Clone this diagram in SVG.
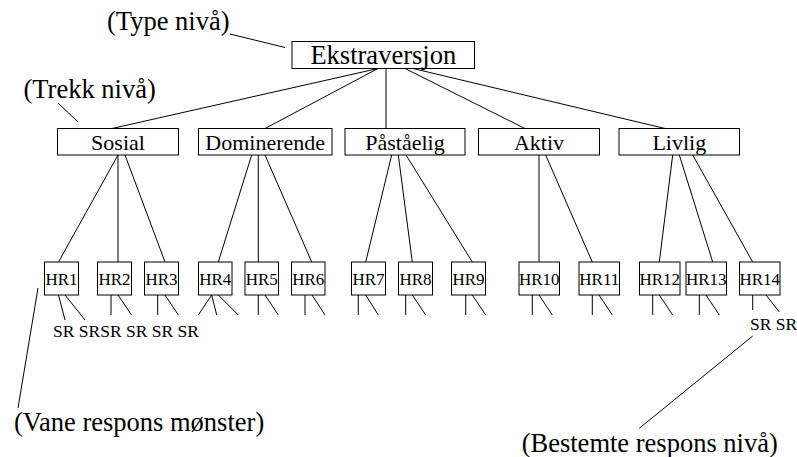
<svg xmlns="http://www.w3.org/2000/svg" width="797" height="457" viewBox="0 0 797 457">
  <style>
    .box { fill: #ffffff; stroke: #000000; stroke-width: 1; }
    .ln { stroke: #000000; stroke-width: 1; fill: none; }
    .t1, .t2, .t3, .sr, .ann { font-family: 'Liberation Serif', 'DejaVu Serif', serif; fill: #000000; }
    .t1 { font-size: 26.5px; text-anchor: middle; }
    .t2 { font-size: 22px; text-anchor: middle; }
    .t3 { font-size: 17px; text-anchor: middle; }
    .sr { font-size: 17.5px; }
    .ann { font-size: 26.5px; }
  </style>

  <g id="connectors" class="ln">
    <line x1="378" y1="68.5" x2="112" y2="128.5"/>
    <line x1="378" y1="68.5" x2="265" y2="128.5"/>
    <line x1="386" y1="68.5" x2="386" y2="128.5"/>
    <line x1="405" y1="68.5" x2="525" y2="128.5"/>
    <line x1="413" y1="68.5" x2="665" y2="128.5"/>
    <line x1="118" y1="155" x2="58.5" y2="262"/>
    <line x1="118" y1="155" x2="118" y2="262"/>
    <line x1="125" y1="155" x2="165" y2="262"/>
    <line x1="251.7" y1="155" x2="218.3" y2="262"/>
    <line x1="258.3" y1="155" x2="258.3" y2="262"/>
    <line x1="265" y1="155" x2="311.7" y2="262"/>
    <line x1="391.7" y1="155" x2="365.7" y2="262"/>
    <line x1="398.3" y1="155" x2="412.3" y2="262"/>
    <line x1="406" y1="155" x2="472.3" y2="262"/>
    <line x1="539" y1="155" x2="539" y2="262"/>
    <line x1="545.7" y1="155" x2="592.3" y2="262"/>
    <line x1="672.7" y1="155" x2="659.3" y2="262"/>
    <line x1="679.3" y1="155" x2="712.7" y2="262"/>
    <line x1="692.7" y1="155" x2="752.7" y2="262"/>
    <line x1="58.5" y1="295" x2="65" y2="320"/>
    <line x1="65" y1="295" x2="85" y2="320"/>
    <line x1="111" y1="295" x2="111" y2="315"/>
    <line x1="118" y1="295" x2="131.5" y2="315"/>
    <line x1="157.7" y1="295" x2="157.7" y2="315"/>
    <line x1="165" y1="295" x2="178.3" y2="315"/>
    <line x1="211.7" y1="295" x2="198.3" y2="315"/>
    <line x1="211.7" y1="295" x2="216.7" y2="315"/>
    <line x1="218.3" y1="295" x2="238.3" y2="315"/>
    <line x1="258.3" y1="295" x2="258.3" y2="315"/>
    <line x1="265" y1="295" x2="278.3" y2="315"/>
    <line x1="305" y1="295" x2="305" y2="315"/>
    <line x1="312" y1="295" x2="325" y2="315"/>
    <line x1="358.3" y1="295" x2="358.3" y2="315"/>
    <line x1="365.7" y1="295" x2="378.3" y2="315"/>
    <line x1="405.7" y1="295" x2="405.7" y2="315"/>
    <line x1="412.3" y1="295" x2="425.7" y2="315"/>
    <line x1="465.7" y1="295" x2="465.7" y2="315"/>
    <line x1="472.3" y1="295" x2="485.7" y2="315"/>
    <line x1="532.3" y1="295" x2="532.3" y2="315"/>
    <line x1="539" y1="295" x2="552.3" y2="315"/>
    <line x1="592.3" y1="295" x2="592.3" y2="315"/>
    <line x1="599" y1="295" x2="612.3" y2="315"/>
    <line x1="652.7" y1="295" x2="652.7" y2="315"/>
    <line x1="659.3" y1="295" x2="672.7" y2="315"/>
    <line x1="699.3" y1="295" x2="699.3" y2="315"/>
    <line x1="706" y1="295" x2="719.3" y2="315"/>
    <line x1="752.7" y1="295" x2="752.7" y2="310"/>
    <line x1="766" y1="295" x2="779.3" y2="312"/>
    <line x1="230" y1="34" x2="285" y2="47.5"/>
    <line x1="58" y1="103" x2="78" y2="122"/>
    <line x1="38" y1="288" x2="18" y2="408"/>
    <line x1="752.7" y1="336" x2="639.3" y2="428.3"/>
  </g>

  <g id="ekstraversjon">
    <rect class="box" x="292" y="41.5" width="182.5" height="27"/>
    <text class="t1" x="383.3" y="64.3" font-family="'Liberation Serif', 'DejaVu Serif', serif">Ekstraversjon</text>
  </g>

  <g id="sosial">
    <rect class="box" x="57.5" y="128.5" width="121" height="26.5"/>
    <text class="t2" x="118" y="149.5">Sosial</text>
  </g>
  <g id="dominerende">
    <rect class="box" x="198.5" y="128.5" width="133.5" height="26.5"/>
    <text class="t2" x="265.2" y="149.5">Dominerende</text>
  </g>
  <g id="paastaaelig">
    <rect class="box" x="345" y="128.5" width="120" height="26.5"/>
    <text class="t2" x="405" y="149.5">Påståelig</text>
  </g>
  <g id="aktiv">
    <rect class="box" x="478.5" y="128.5" width="121" height="26.5"/>
    <text class="t2" x="539" y="149.5">Aktiv</text>
  </g>
  <g id="livlig">
    <rect class="box" x="619" y="128.5" width="120.5" height="26.5"/>
    <text class="t2" x="679.3" y="149.5">Livlig</text>
  </g>

  <g id="hr1"><rect class="box" x="44.5" y="262" width="34" height="33"/><text class="t3" x="61.5" y="284.5">HR1</text></g>
  <g id="hr2"><rect class="box" x="97.5" y="262" width="34" height="33"/><text class="t3" x="114.5" y="284.5">HR2</text></g>
  <g id="hr3"><rect class="box" x="144.5" y="262" width="34" height="33"/><text class="t3" x="161.5" y="284.5">HR3</text></g>
  <g id="hr4"><rect class="box" x="198.5" y="262" width="33.5" height="33"/><text class="t3" x="215.2" y="284.5">HR4</text></g>
  <g id="hr5"><rect class="box" x="245" y="262" width="33.5" height="33"/><text class="t3" x="261.7" y="284.5">HR5</text></g>
  <g id="hr6"><rect class="box" x="291.5" y="262" width="33.5" height="33"/><text class="t3" x="308.2" y="284.5">HR6</text></g>
  <g id="hr7"><rect class="box" x="351.5" y="262" width="34" height="33"/><text class="t3" x="368.5" y="284.5">HR7</text></g>
  <g id="hr8"><rect class="box" x="398.5" y="262" width="34" height="33"/><text class="t3" x="415.5" y="284.5">HR8</text></g>
  <g id="hr9"><rect class="box" x="451.5" y="262" width="34" height="33"/><text class="t3" x="468.5" y="284.5">HR9</text></g>
  <g id="hr10"><rect class="box" x="519" y="262" width="40.5" height="33"/><text class="t3" x="539.3" y="284.5">HR10</text></g>
  <g id="hr11"><rect class="box" x="579" y="262" width="40.5" height="33"/><text class="t3" x="599.3" y="284.5">HR11</text></g>
  <g id="hr12"><rect class="box" x="639.5" y="262" width="40.5" height="33"/><text class="t3" x="659.8" y="284.5">HR12</text></g>
  <g id="hr13"><rect class="box" x="686" y="262" width="40.5" height="33"/><text class="t3" x="706.3" y="284.5">HR13</text></g>
  <g id="hr14"><rect class="box" x="739.5" y="262" width="40.5" height="33"/><text class="t3" x="759.8" y="284.5">HR14</text></g>

  <g id="sr-labels">
    <text class="sr" x="53" y="336.7">SR SRSR SR SR SR</text>
    <text class="sr" x="750" y="330">SR SR</text>
  </g>

  <g id="annotations">
    <text class="ann" x="107" y="30">(Type nivå)</text>
    <text class="ann" x="23.5" y="97.5">(Trekk nivå)</text>
    <text class="ann" x="14" y="430.7">(Vane respons mønster)</text>
    <text class="ann" x="521.7" y="451.7">(Bestemte respons nivå)</text>
  </g>
</svg>
